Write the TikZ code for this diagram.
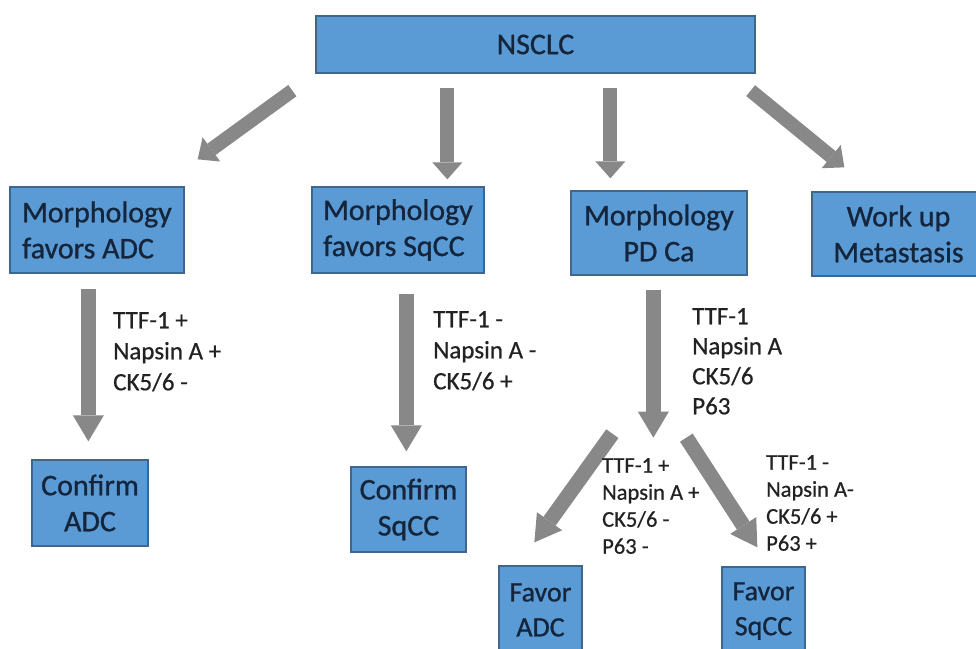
\documentclass[tikz,border=0pt]{standalone}
\usepackage{fontspec}
\setmainfont{Carlito}
\newfontfamily\heavyfont[FakeBold=0.9]{Carlito}
\newfontfamily\semifont[FakeBold=0.6]{Carlito}
\usetikzlibrary{arrows.meta,calc}
\definecolor{boxfill}{HTML}{5B9BD5}
\definecolor{boxline}{HTML}{3E6690}
\definecolor{boxtext}{HTML}{15253B}
\definecolor{arrowgray}{HTML}{888888}
\definecolor{labeltext}{HTML}{222222}
\tikzset{
  box/.style={draw=boxline, line width=1.3pt, fill=boxfill, text=boxtext,
    inner sep=0pt, align=center, font=\heavyfont\fontsize{30}{36}\selectfont},
  leftbox/.style={box, align=left},
  bigarrow/.style={draw=arrowgray, line width=14pt,
    -{Triangle[width=30pt,length=17pt,line width=0pt]}},
  lowarrow/.style={draw=arrowgray, line width=15pt,
    -{Triangle[width=31pt,length=26pt,line width=0pt]}},
  lbl/.style={anchor=north west, inner sep=0pt, align=left, text=labeltext,
    font=\semifont\fontsize{25}{31}\selectfont},
  smalllbl/.style={lbl, font=\semifont\fontsize{22.5}{27}\selectfont}
}
\begin{document}
\begin{tikzpicture}[x=1pt,y=-1pt]
\clip (0,0) rectangle (976,648);
\fill[white] (0,0) rectangle (976,648);

% boxes
\node[box, minimum width=439pt, minimum height=57pt] (nsclc) at (535.5,44.5) {NSCLC};
\node[leftbox, minimum width=174pt, minimum height=86pt] (madc) at (97,230) {Morphology\\favors ADC};
\node[leftbox, minimum width=172pt, minimum height=86pt] (msqcc) at (398,230) {Morphology\\favors SqCC};
\node[box, minimum width=176pt, minimum height=84pt] (mpd) at (659,233) {Morphology\\PD Ca};
\node[box, minimum width=173pt, minimum height=84pt] (work) at (898.5,234) {Work up\\Metastasis};
\node[box, minimum width=116pt, minimum height=86pt] (cadc) at (90,503) {Confirm\\ADC};
\node[box, minimum width=115pt, minimum height=85pt] (csqcc) at (408.5,509.5) {Confirm\\SqCC};
\node[box, minimum width=83pt, minimum height=88pt, font=\heavyfont\fontsize{28}{35}\selectfont] (fadc) at (540.5,610) {Favor\\ADC};
\node[box, minimum width=83pt, minimum height=88pt, font=\heavyfont\fontsize{28}{35}\selectfont] (fsqcc) at (763.5,611) {Favor\\SqCC};

% arrows from NSCLC
\draw[bigarrow] ($(nsclc.south west)+(-23,17)$) -- ($(madc.north east)+(13,-27)$);
\draw[bigarrow] ($(nsclc.south west)+(132,14)$) -- ($(msqcc.north west)+(136,-7)$);
\draw[bigarrow] ($(nsclc.south west)+(295,14)$) -- ($(mpd.north west)+(40,-12)$);
\draw[bigarrow] ($(nsclc.south east)+(-5,17)$) -- ($(work.north west)+(33,-24)$);

% lower arrows
\draw[lowarrow] ($(madc.south west)+(79,15)$) -- ($(cadc.north west)+(57,-18)$);
\draw[lowarrow] ($(msqcc.south west)+(95,20)$) -- ($(csqcc.north west)+(56,-15)$);
\draw[lowarrow] ($(mpd.south west)+(83,14)$) -- ($(mpd.south west)+(83,162)$);
\draw[lowarrow] ($(mpd.south west)+(42,158)$) -- ($(fadc.north west)+(36,-23)$);
\draw[lowarrow] ($(mpd.south west)+(116,162)$) -- ($(fsqcc.north west)+(36,-19)$);

% labels
\node[lbl] (l1) at (113,312) {TTF-1 +\\Napsin A +\\CK5/6 -};
\node[lbl] (l2) at (433,311) {TTF-1 -\\Napsin A -\\CK5/6 +};
\node[lbl, font=\semifont\fontsize{25}{30}\selectfont] (l3) at (692,308) {TTF-1\\Napsin A\\CK5/6\\P63};
\node[smalllbl] (l4) at (602,458) {TTF-1 +\\Napsin A +\\CK5/6 -\\P63 -};
\node[smalllbl] (l5) at (766,455) {TTF-1 -\\Napsin A-\\CK5/6 +\\P63 +};
\end{tikzpicture}
\end{document}
